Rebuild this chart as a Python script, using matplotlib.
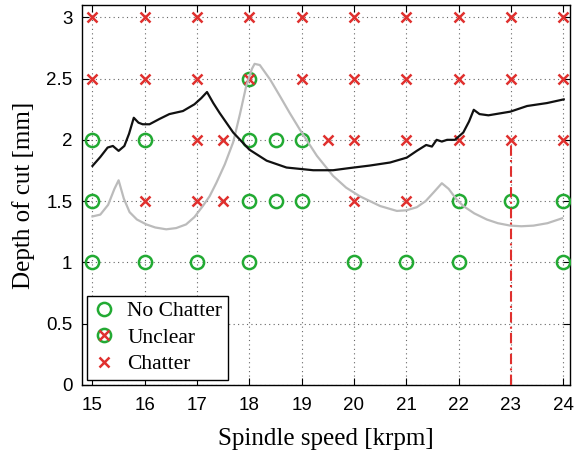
import matplotlib
matplotlib.use("Agg")
import matplotlib.pyplot as plt
from matplotlib.lines import Line2D

GREEN = "#22aa33"
RED = "#e0302e"

# test points (spindle speed [krpm], depth of cut [mm])
no_chatter_speed = [15, 16, 18, 18.5, 19,
                    15, 18, 18.5, 19, 22, 23, 24,
                    15, 16, 17, 18, 20, 21, 22, 24]
no_chatter_depth = [2, 2, 2, 2, 2,
                    1.5, 1.5, 1.5, 1.5, 1.5, 1.5, 1.5,
                    1, 1, 1, 1, 1, 1, 1, 1]
unclear_speed = [18]
unclear_depth = [2.5]
chatter_speed = [15, 16, 17, 18, 19, 20, 21, 22, 23, 24,
                 15, 16, 17, 19, 20, 21, 22, 23, 24,
                 17, 17.5, 19.5, 20, 21, 22, 23, 24,
                 16, 17, 17.5, 20, 21]
chatter_depth = [3] * 10 + [2.5] * 9 + [2] * 8 + [1.5] * 5

# predicted stability boundaries
lobe_black_speed = [15.0, 15.15, 15.29, 15.39, 15.50, 15.61, 15.70, 15.79, 15.88, 15.96,
                    16.09, 16.28, 16.47, 16.73, 16.95, 17.08, 17.19, 17.31, 17.43, 17.69,
                    18.0, 18.33, 18.71, 19.22, 19.6, 19.92, 20.3, 20.69, 21.01, 21.20,
                    21.38, 21.49, 21.58, 21.68, 21.78, 21.93, 22.09, 22.2, 22.29, 22.4,
                    22.57, 22.99, 23.31, 23.69, 24.01]
lobe_black_depth = [1.787, 1.86, 1.937, 1.95, 1.91, 1.95, 2.05, 2.18, 2.14, 2.127,
                    2.127, 2.17, 2.21, 2.235, 2.29, 2.34, 2.39, 2.30, 2.22, 2.06,
                    1.92, 1.83, 1.774, 1.752, 1.752, 1.77, 1.79, 1.815, 1.855, 1.91,
                    1.958, 1.945, 2.0, 1.986, 2.0, 2.0, 2.06, 2.15, 2.245, 2.21,
                    2.20, 2.23, 2.276, 2.30, 2.33]
lobe_gray_speed = [15.0, 15.15, 15.3, 15.42, 15.5, 15.6, 15.71, 15.85, 16.03, 16.2,
                   16.41, 16.6, 16.79, 16.95, 17.11, 17.24, 17.37, 17.53, 17.69, 17.82,
                   17.94, 18.05, 18.10, 18.2, 18.4, 18.58, 18.77, 18.97, 19.29, 19.6,
                   19.85, 20.11, 20.5, 20.82, 21.0, 21.2, 21.37, 21.52, 21.68, 21.81,
                   21.95, 22.09, 22.3, 22.54, 22.75, 22.99, 23.2, 23.43, 23.7, 23.98]
lobe_gray_depth = [1.375, 1.39, 1.47, 1.6, 1.67, 1.52, 1.41, 1.35, 1.31, 1.285,
                   1.27, 1.28, 1.31, 1.37, 1.46, 1.54, 1.65, 1.80, 1.98, 2.21,
                   2.44, 2.58, 2.62, 2.61, 2.49, 2.36, 2.22, 2.08, 1.87, 1.706,
                   1.61, 1.54, 1.46, 1.42, 1.425, 1.45, 1.50, 1.57, 1.646, 1.60,
                   1.52, 1.46, 1.40, 1.35, 1.32, 1.30, 1.295, 1.30, 1.32, 1.36]

test_speed = 23
test_depth = 2

plt.rcParams["font.family"] = "Liberation Serif"

fig = plt.figure(figsize=(5.75, 4.54), dpi=100)
ax = fig.add_axes([0.1426, 0.152, 0.8487, 0.837])

ax.grid(True, linestyle=(0, (1, 3)), color="0.4", lw=0.8)
ax.set_axisbelow(True)

circ = dict(marker="o", ms=9.5, mfc="none", mec=GREEN, mew=1.8, ls="none")
cross = dict(marker="x", ms=7, color=RED, mew=1.8, ls="none")

ax.plot(no_chatter_speed, no_chatter_depth, **circ, zorder=3)
ax.plot(unclear_speed, unclear_depth, **circ, zorder=3)
ax.plot(unclear_speed, unclear_depth, **cross, zorder=3)
ax.plot(chatter_speed, chatter_depth, **cross, zorder=3)

ax.plot(lobe_gray_speed, lobe_gray_depth, color="#bbbbbb", lw=1.6, zorder=4)
ax.plot(lobe_black_speed, lobe_black_depth, color="#111111", lw=1.6, zorder=4)
ax.plot([test_speed, test_speed], [0, test_depth], color=RED, lw=1.5,
        ls=(0, (5, 2, 1, 2)), zorder=5)

ax.set_xlim(14.8, 24.13)
ax.set_ylim(0, 3.1)
ax.set_xticks(range(15, 25))
ax.set_yticks([0, 0.5, 1, 1.5, 2, 2.5, 3])
ax.set_yticklabels(["0", "0.5", "1", "1.5", "2", "2.5", "3"])
ax.tick_params(direction="in", top=True, right=True, length=5, width=0.8,
               labelsize=13.5)
ax.tick_params(axis="x", pad=8.5)
ax.tick_params(axis="y", pad=7)
for lab in ax.get_xticklabels() + ax.get_yticklabels():
    lab.set_family("Liberation Sans")
for s in ax.spines.values():
    s.set_linewidth(1.0)

ax.set_xlabel("Spindle speed [krpm]", fontsize=18, labelpad=10)
ax.set_ylabel("Depth of cut [mm]", fontsize=18, labelpad=8)

h_no = Line2D([], [], **circ)
h_ch = Line2D([], [], **cross)
leg = ax.legend([h_no, (h_no, h_ch), h_ch], ["No Chatter", "Unclear", "Chatter"],
                loc="lower left", fontsize=15.5, borderaxespad=0.25, handlelength=1.0,
                handletextpad=0.6, labelspacing=0.3, fancybox=False,
                framealpha=1, edgecolor="black", borderpad=0.25)
leg.get_frame().set_linewidth(1.0)
leg.set_zorder(10)

fig.savefig("out.png", dpi=100)
